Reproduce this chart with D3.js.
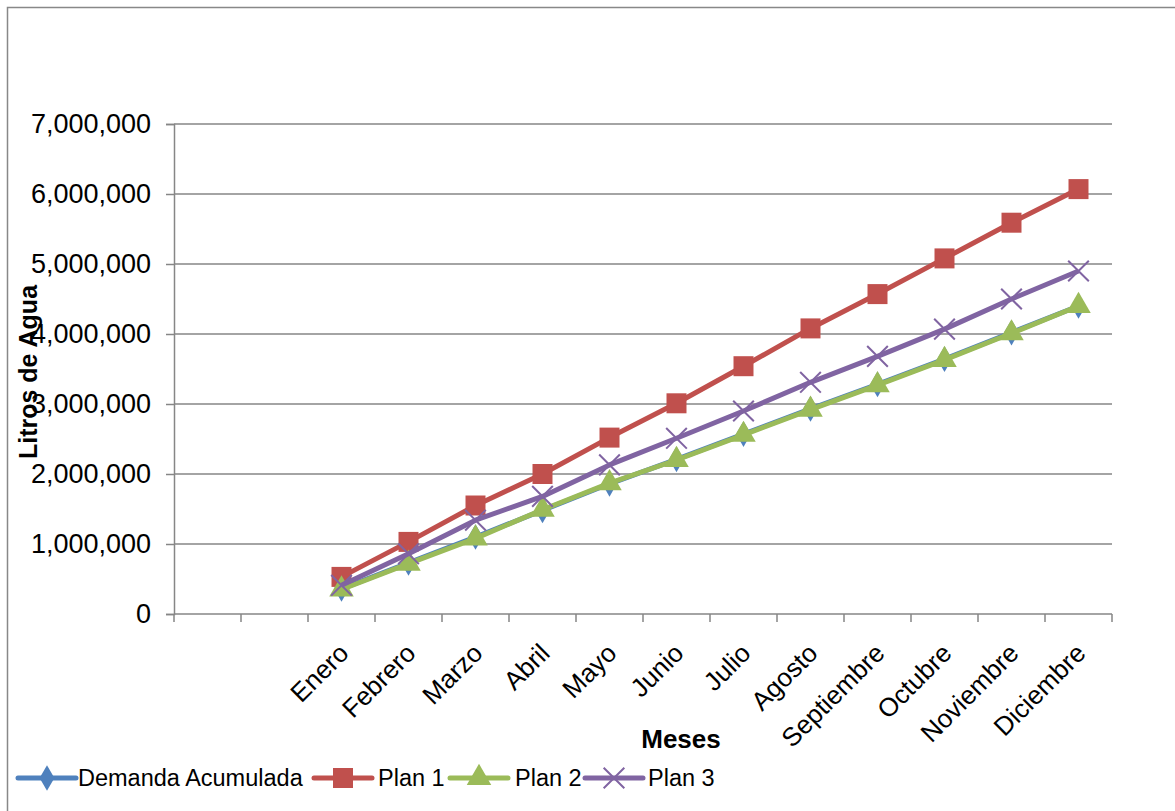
<!DOCTYPE html>
<html>
<head>
<meta charset="utf-8">
<script src="https://cdn.jsdelivr.net/npm/d3@7"></script>
<style>
  html, body { margin: 0; padding: 0; background: #fff; }
  svg { display: block; }
</style>
</head>
<body>
<svg id="chart" width="1175" height="811"></svg>
<script>
// Category slots on the x axis (the first two slots are blank)
const categories = ["", "", "Enero", "Febrero", "Marzo", "Abril", "Mayo", "Junio",
  "Julio", "Agosto", "Septiembre", "Octubre", "Noviembre", "Diciembre"];

// Cumulative litres per month
const demandaAcumulada = [360000, 730000, 1100000, 1480000, 1860000, 2210000,
  2570000, 2930000, 3280000, 3640000, 4020000, 4400000];
const plan1 = [530000, 1030000, 1550000, 2000000, 2520000, 3010000,
  3540000, 4080000, 4570000, 5080000, 5590000, 6070000];
const plan2 = [350000, 720000, 1080000, 1490000, 1870000, 2200000,
  2560000, 2920000, 3270000, 3630000, 4010000, 4400000];
const plan3 = [410000, 860000, 1340000, 1680000, 2130000, 2510000,
  2900000, 3310000, 3680000, 4070000, 4500000, 4900000];

const yTicks = [0, 1000000, 2000000, 3000000, 4000000, 5000000, 6000000, 7000000];

const seriesNames = ["Demanda Acumulada", "Plan 1", "Plan 2", "Plan 3"];
const seriesValues = [demandaAcumulada, plan1, plan2, plan3];
const seriesColors = ["#4F81BD", "#C0504D", "#9BBB59", "#8064A2"];
const seriesSymbols = [d3.symbolDiamond, d3.symbolSquare, d3.symbolTriangle, d3.symbolX];
const symbolSizes = [190, 400, 260, 280];

const svg = d3.select("#chart");
const W = 1175, H = 811;
const plot = { left: 174, right: 1112, top: 124, bottom: 614 };
const gridColor = "#868686";
const font = "'Liberation Sans', Arial, sans-serif";

// Outer chart frame
svg.append("rect")
  .attr("x", 7.5).attr("y", 7.5)
  .attr("width", W + 20).attr("height", H + 20)
  .attr("fill", "#fff")
  .attr("stroke", "#888").attr("stroke-width", 1.5);

const x = d3.scaleBand()
  .domain(d3.range(categories.length))
  .range([plot.left, plot.right])
  .paddingInner(0).paddingOuter(0);

const y = d3.scaleLinear()
  .domain([0, 7000000])
  .range([plot.bottom, plot.top]);

const fmt = d3.format(",");

// Horizontal gridlines
svg.append("g")
  .selectAll("line")
  .data(yTicks.filter(d => d > 0))
  .join("line")
  .attr("x1", plot.left).attr("x2", plot.right)
  .attr("y1", d => y(d)).attr("y2", d => y(d))
  .attr("stroke", gridColor).attr("stroke-width", 1.5);

// Y axis
const yAxis = svg.append("g")
  .attr("transform", `translate(${plot.left},0)`)
  .call(d3.axisLeft(y).tickValues(yTicks).tickFormat(fmt).tickSize(8).tickPadding(15));
yAxis.select(".domain").attr("stroke", gridColor).attr("stroke-width", 1.5);
yAxis.selectAll(".tick line").attr("stroke", gridColor).attr("stroke-width", 1.5);
yAxis.selectAll(".tick text")
  .attr("font-family", font)
  .attr("font-size", 27).attr("fill", "#000");

// X axis: ticks sit on the category boundaries
const xAxisG = svg.append("g")
  .attr("transform", `translate(0,${plot.bottom})`);
const boundaries = d3.range(categories.length + 1).map(i =>
  i < categories.length ? x(i) : x(categories.length - 1) + x.bandwidth());
xAxisG.append("line")
  .attr("x1", plot.left).attr("x2", plot.right)
  .attr("y1", 0).attr("y2", 0)
  .attr("stroke", gridColor).attr("stroke-width", 1.5);
xAxisG.selectAll("line.tick")
  .data(boundaries)
  .join("line")
  .attr("class", "tick")
  .attr("x1", d => d).attr("x2", d => d)
  .attr("y1", 0).attr("y2", 8)
  .attr("stroke", gridColor).attr("stroke-width", 1.5);
xAxisG.selectAll("text.lbl")
  .data(categories.map((c, i) => ({ c, i })).filter(d => d.c !== ""))
  .join("text")
  .attr("class", "lbl")
  .attr("transform", d => `translate(${x(d.i) + x.bandwidth() / 2 - 5},${27}) rotate(-45)`)
  .attr("text-anchor", "end")
  .attr("dy", "0.75em")
  .attr("font-family", font)
  .attr("font-size", 26).attr("fill", "#000")
  .text(d => d.c);

// Axis titles
svg.append("text")
  .attr("transform", `translate(37,372) rotate(-90)`)
  .attr("text-anchor", "middle")
  .attr("font-family", font)
  .attr("font-weight", "bold").attr("font-size", 25)
  .text("Litros de Agua");

svg.append("text")
  .attr("x", 681).attr("y", 748)
  .attr("text-anchor", "middle")
  .attr("font-family", font)
  .attr("font-weight", "bold").attr("font-size", 26)
  .text("Meses");

// Series lines and markers
const cx = i => x(i + 2) + x.bandwidth() / 2;
const line = d3.line().x((d, i) => cx(i)).y(d => y(d));

seriesValues.forEach((vals, s) => {
  const g = svg.append("g");
  g.append("path")
    .datum(vals)
    .attr("d", line)
    .attr("fill", "none")
    .attr("stroke", seriesColors[s])
    .attr("stroke-width", 5)
    .attr("stroke-linejoin", "round");
  const sym = d3.symbol().type(seriesSymbols[s]).size(symbolSizes[s]);
  g.selectAll("path.m")
    .data(vals)
    .join("path")
    .attr("class", "m")
    .attr("transform", (d, i) => `translate(${cx(i)},${y(d)})`)
    .attr("d", sym)
    .attr("fill", seriesSymbols[s] === d3.symbolX ? "none" : seriesColors[s])
    .attr("stroke", seriesSymbols[s] === d3.symbolX ? seriesColors[s] : "none")
    .attr("stroke-width", 2);
});

// Legend
const legendItems = [
  { x0: 18, textX: 78 },
  { x0: 314, textX: 378 },
  { x0: 450, textX: 515 },
  { x0: 585, textX: 648 }
];
const legendY = 778;
const legend = svg.append("g");
seriesNames.forEach((name, s) => {
  const it = legendItems[s];
  const lg = legend.append("g");
  lg.append("line")
    .attr("x1", it.x0).attr("x2", it.x0 + 58)
    .attr("y1", legendY).attr("y2", legendY)
    .attr("stroke", seriesColors[s]).attr("stroke-width", 5)
    .attr("stroke-linecap", "round");
  lg.append("path")
    .attr("transform", `translate(${it.x0 + 29},${legendY})`)
    .attr("d", d3.symbol().type(seriesSymbols[s]).size(symbolSizes[s])())
    .attr("fill", seriesSymbols[s] === d3.symbolX ? "none" : seriesColors[s])
    .attr("stroke", seriesSymbols[s] === d3.symbolX ? seriesColors[s] : "none")
    .attr("stroke-width", 2);
  lg.append("text")
    .attr("x", it.textX).attr("y", legendY)
    .attr("dy", "0.36em")
    .attr("font-family", font)
    .attr("font-size", 23.5).attr("fill", "#000")
    .text(name);
});
</script>
</body>
</html>
